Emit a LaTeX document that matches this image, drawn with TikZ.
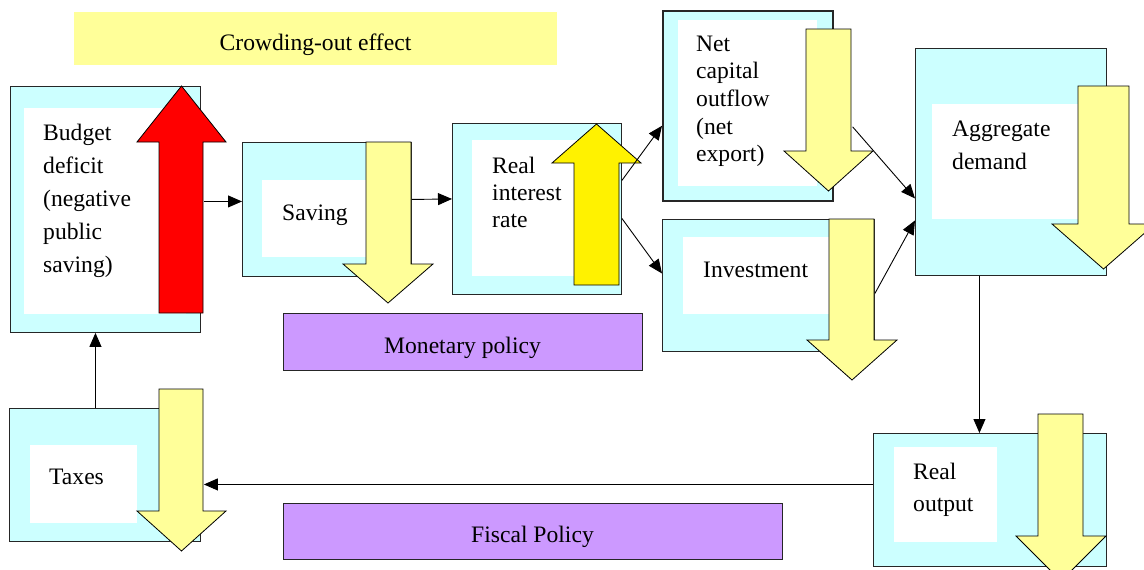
\documentclass[tikz,border=0pt]{standalone}
\usepackage{fontspec}
\setmainfont{Liberation Serif}
\usetikzlibrary{arrows.meta}
\definecolor{paleCyan}{HTML}{CCFFFF}
\definecolor{paleYellow}{HTML}{FFFF99}
\definecolor{lilac}{HTML}{CC99FF}
% stacked lines with a fixed baseline distance; baseline = first line
\newcommand\textlines[2]{\fontsize{23.6}{#1}\selectfont\begin{tabular}[t]{@{}l@{}}#2\end{tabular}}
% block arrow: fill, shaft left, shaft right, tail y, head-base y, head left, head right, tip y
\newcommand\blockarrow[8]{%
  \draw[blockedge,fill=#1] (#2,#4) -- (#3,#4) -- (#3,#5) -- (#7,#5)
    -- ({(#6+#7)/2},#8) -- (#6,#5) -- (#2,#5) -- cycle;}
\begin{document}
\begin{tikzpicture}[x=1pt,y=-1pt,
  box/.style={draw=black!85,fill=paleCyan,line width=0.9pt,inner sep=0,anchor=north west},
  pane/.style={fill=white,inner sep=0,anchor=north west},
  txt/.style={inner sep=0,anchor=base west},
  banner/.style={draw=black!85,fill=lilac,line width=0.9pt,inner sep=0,anchor=north west},
  bannertext/.style={inner sep=0,anchor=base,font=\fontsize{23.6}{28}\selectfont},
  blockedge/.style={draw=black,line width=0.8pt,line join=miter},
  conn/.style={-{Triangle[length=14pt,width=12pt]},line width=0.9pt,black}]
\useasboundingbox (0,0) rectangle (1144,570);

% outer boxes
\node[box,minimum width=190pt,minimum height=246pt] (bud) at (10,86) {};
\node[box,minimum width=169pt,minimum height=134pt] (sav) at (242,142) {};
\node[box,minimum width=169pt,minimum height=171pt] (rate) at (452,123) {};
\node[box,line width=1.6pt,minimum width=170pt,minimum height=190pt] (net) at (662,10) {};
\node[box,minimum width=212pt,minimum height=132pt] (inv) at (662,219) {};
\node[box,minimum width=191pt,minimum height=227pt] (agg) at (915,48) {};
\node[box,minimum width=191pt,minimum height=133pt] (tax) at (9,408) {};
\node[box,minimum width=233pt,minimum height=133pt] (out) at (873,433) {};

% white inner panes
\node[pane,minimum width=162pt,minimum height=206pt] (budp) at (24,108) {};
\node[pane,minimum width=133pt,minimum height=77pt] (savp) at (262,180) {};
\node[pane,minimum width=133pt,minimum height=136pt] (ratep) at (472,140) {};
\node[pane,minimum width=139pt,minimum height=166pt] (netp) at (678,20) {};
\node[pane,minimum width=172pt,minimum height=77pt] (invp) at (683,237) {};
\node[pane,minimum width=158pt,minimum height=115pt] (aggp) at (932,104) {};
\node[pane,minimum width=107pt,minimum height=78pt] (taxp) at (30,445) {};
\node[pane,minimum width=103pt,minimum height=95pt] (outp) at (894,447) {};

% labels
\node[txt] (budt) at (43,140) {\textlines{33pt}{Budget\\deficit\\(negative\\public\\saving)}};
\node[txt] (savt) at (282,220) {\textlines{33pt}{Saving}};
\node[txt] (ratet) at (492,173) {\textlines{27pt}{Real\\interest\\rate}};
\node[txt] (nett) at (696,51) {\textlines{27.7pt}{Net\\capital\\outflow\\(net\\export)}};
\node[txt] (invt) at (703,277) {\textlines{33pt}{Investment}};
\node[txt] (aggt) at (952,136) {\textlines{33pt}{Aggregate\\demand}};
\node[txt] (taxt) at (49,484) {\textlines{33pt}{Taxes}};
\node[txt] (outt) at (913,479) {\textlines{32pt}{Real\\output}};

% banners
\node[fill=paleYellow,inner sep=0,anchor=north west,minimum width=483pt,minimum height=53pt] (crowd) at (74,12) {};
\node[bannertext] (crowdt) at (315.5,50) {Crowding-out effect};
\node[banner,minimum width=359pt,minimum height=57pt] (mon) at (283,313) {};
\node[bannertext] (mont) at (462.5,353) {Monetary policy};
\node[banner,minimum width=499pt,minimum height=56pt] (fis) at (283,503) {};
\node[bannertext] (fist) at (532.5,542) {Fiscal Policy};

% direction arrows
\blockarrow{red}{159}{203}{313}{142}{137}{226}{86}
\blockarrow{paleYellow}{366}{411}{142}{264}{343}{433}{303}
\blockarrow{yellow}{574}{619}{285}{163}{552}{641}{124}
\blockarrow{paleYellow}{806}{851}{29}{151}{784}{873}{191}
\blockarrow{paleYellow}{829}{874}{219}{340}{807}{897}{380}
\blockarrow{paleYellow}{1078}{1129}{86}{224}{1052}{1155}{269}
\blockarrow{paleYellow}{159}{203}{389}{511}{137}{226}{551}
\blockarrow{paleYellow}{1038}{1083}{414}{536}{1016}{1106}{581}

% connectors
\draw[conn] ([xshift=3pt,yshift=8pt]bud.east) -- ([yshift=8pt]sav.west);
\draw[conn] ([yshift=10pt]sav.east) -- ([yshift=10pt]rate.west);
\draw[conn] ([yshift=28.5pt]rate.east) -- ([yshift=-20pt]net.west);
\draw[conn] ([yshift=-9.5pt]rate.east) -- ([yshift=12pt]inv.west);
\draw[conn] ([xshift=19pt,yshift=-21pt]net.east) -- ([yshift=-36.5pt]agg.west);
\draw[conn] ([yshift=-8pt]inv.east) -- ([yshift=-58.5pt]agg.west);
\draw[conn] ([xshift=-31.5pt]agg.south) -- ([xshift=-10.5pt]out.north);
\draw[conn] ([yshift=15.5pt]out.west) -- ([xshift=3pt,yshift=-9.5pt]tax.east);
\draw[conn] ([xshift=-9.5pt]tax.north) -- ([xshift=-10pt]bud.south);
\end{tikzpicture}
\end{document}
